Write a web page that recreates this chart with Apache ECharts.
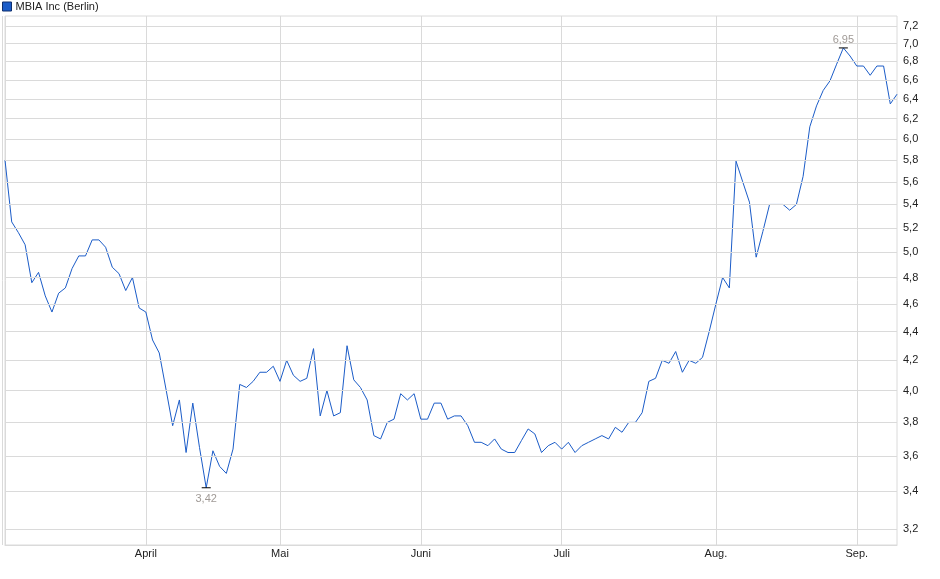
<!DOCTYPE html>
<html>
<head>
<meta charset="utf-8">
<script src="https://cdn.jsdelivr.net/npm/echarts@6/dist/echarts.min.js"></script>
<style>
html,body{margin:0;padding:0;background:#fff;}
#chart{width:940px;height:579px;}
</style>
</head>
<body>
<div id="chart"></div>
<script>
// Trading days (Berlin), 2025-03-03 .. 2025-09-09
const startDate = '2025-03-03';
const endDate = '2025-09-09';
const holidays = ['2025-04-18', '2025-04-21', '2025-05-01'];
const monthNames = ['Jan.', 'Feb.', 'März', 'April', 'Mai', 'Juni', 'Juli', 'Aug.', 'Sep.', 'Okt.', 'Nov.', 'Dez.'];

const dates = (function () {
  const out = [];
  const d = new Date(startDate + 'T12:00:00Z');
  const end = new Date(endDate + 'T12:00:00Z');
  while (d <= end) {
    const iso = d.toISOString().slice(0, 10);
    const wd = d.getUTCDay();
    if (wd !== 0 && wd !== 6 && holidays.indexOf(iso) < 0) out.push(iso);
    d.setUTCDate(d.getUTCDate() + 1);
  }
  return out;
})();

const prices = [
  5.80, 5.25, 5.16, 5.06, 4.76, 4.84, 4.66, 4.54, 4.68, 4.72,
  4.87, 4.97, 4.97, 5.10, 5.10, 5.04, 4.88, 4.83, 4.70, 4.80,
  4.57, 4.54, 4.34, 4.25, 4.01, 3.78, 3.94, 3.62, 3.92, 3.65,
  3.42, 3.63, 3.54, 3.50, 3.64, 4.04, 4.02, 4.06, 4.12, 4.12,
  4.16, 4.06, 4.20, 4.10, 4.06, 4.08, 4.28, 3.84, 4.00, 3.84,
  3.86, 4.30, 4.07, 4.02, 3.94, 3.72, 3.70, 3.80, 3.82, 3.98,
  3.94, 3.98, 3.82, 3.82, 3.92, 3.92, 3.82, 3.84, 3.84, 3.78,
  3.68, 3.68, 3.66, 3.70, 3.64, 3.62, 3.62, 3.69, 3.76, 3.73,
  3.62, 3.66, 3.68, 3.64, 3.68, 3.62, 3.66, 3.68, 3.70, 3.72,
  3.70, 3.77, 3.74, 3.80, 3.80, 3.86, 4.06, 4.08, 4.20, 4.18,
  4.26, 4.12, 4.20, 4.18, 4.22, 4.40, 4.60, 4.80, 4.72, 5.79,
  5.60, 5.42, 4.96, 5.17, 5.40, 5.40, 5.40, 5.35, 5.40, 5.65,
  6.12, 6.33, 6.49, 6.59, 6.77, 6.95, 6.86, 6.75, 6.75, 6.65,
  6.75, 6.75, 6.35, 6.45
];

const yTicks = [3.2, 3.4, 3.6, 3.8, 4.0, 4.2, 4.4, 4.6, 4.8, 5.0, 5.2, 5.4, 5.6, 5.8, 6.0, 6.2, 6.4, 6.6, 6.8, 7.0, 7.2];
const seriesName = 'MBIA Inc (Berlin)';

const monthStartIdx = [];
for (let i = 1; i < dates.length; i++) {
  if (dates[i].slice(5, 7) !== dates[i - 1].slice(5, 7)) monthStartIdx.push(i);
}

const FONT = '"Liberation Sans", Arial, sans-serif';
const GRID_COLOR = '#dadada';
const fmt = (v, d) => v.toFixed(d).replace('.', ',');

const chart = echarts.init(document.getElementById('chart'), null, { renderer: 'canvas' });
chart.setOption({
  animation: false,
  backgroundColor: '#ffffff',
  textStyle: { fontFamily: FONT },
  legend: {
    data: [{ name: seriesName, icon: 'rect' }],
    left: 2, top: 1, padding: 0,
    itemWidth: 9, itemHeight: 9, itemGap: 10,
    itemStyle: { borderColor: '#0f2f6e', borderWidth: 1 },
    textStyle: { fontSize: 11, color: '#222', fontFamily: FONT, padding: [0, 0, 0, -1] },
    selectedMode: false
  },
  grid: {
    left: 5, right: 43, top: 16, bottom: 34,
    show: true, borderColor: GRID_COLOR, borderWidth: 1
  },
  graphic: [{
    type: 'line', z: 0, silent: true,
    shape: { x1: 2.5, y1: 16, x2: 2.5, y2: 545 },
    style: { stroke: GRID_COLOR, lineWidth: 1 }
  }],
  xAxis: {
    type: 'category',
    data: dates,
    boundaryGap: false,
    axisLine: { show: true, lineStyle: { color: GRID_COLOR } },
    axisTick: { show: false },
    axisLabel: {
      interval: (i) => monthStartIdx.indexOf(i) >= 0,
      formatter: (v) => monthNames[parseInt(v.slice(5, 7), 10) - 1],
      color: '#222', fontSize: 11, margin: 3, fontFamily: FONT
    },
    splitLine: {
      show: true,
      interval: (i) => i === 0 || monthStartIdx.indexOf(i) >= 0,
      lineStyle: { color: GRID_COLOR, width: 1 }
    }
  },
  yAxis: {
    type: 'log',
    logBase: 10,
    position: 'right',
    min: 3.1185,
    max: 7.317,
    axisLine: { show: false },
    axisTick: { show: false },
    axisLabel: { show: false },
    splitLine: { show: false }
  },
  series: [
    {
      name: 'grid',
      type: 'line',
      data: prices,
      z: 1,
      silent: true,
      showSymbol: false,
      lineStyle: { opacity: 0 },
      markLine: {
        silent: true,
        symbol: ['none', 'none'],
        lineStyle: { color: GRID_COLOR, type: 'solid', width: 1 },
        label: {
          show: true, position: 'end', distance: 6,
          formatter: (p) => fmt(p.value, 1),
          color: '#222', fontSize: 11, fontFamily: FONT
        },
        data: yTicks.map((v) => ({ yAxis: v }))
      }
    },
    {
      name: seriesName,
      type: 'line',
      data: prices,
      z: 3,
      showSymbol: false,
      symbol: 'none',
      color: '#1b5cc8',
      lineStyle: { color: '#1b5cc8', width: 1 },
      markPoint: {
        silent: true,
        symbol: 'rect',
        symbolSize: [9, 1],
        itemStyle: { color: '#000' },
        label: {
          show: true,
          formatter: (p) => fmt(p.value, 2),
          color: '#a09a96', fontSize: 11, fontFamily: FONT
        },
        data: [
          { type: 'min', label: { position: 'bottom', distance: 5 } },
          { type: 'max', label: { position: 'top', distance: 2 } }
        ]
      }
    }
  ]
});
</script>
</body>
</html>
